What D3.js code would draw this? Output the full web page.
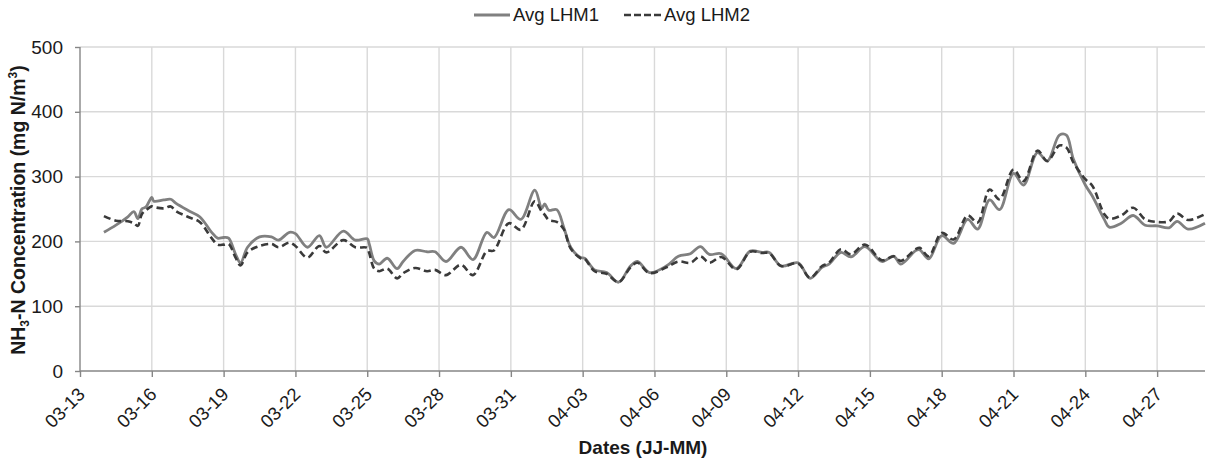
<!DOCTYPE html>
<html>
<head>
<meta charset="utf-8">
<script src="https://cdn.jsdelivr.net/npm/d3@7"></script>
<style>
body { margin: 0; background: #fff; }
svg { font-family: "Liberation Sans", Arial, sans-serif; }
</style>
</head>
<body>
<svg id="chart" width="1207" height="465"></svg>
<script>
// sample times (MM-DD HH)
var times = ["03-14 00","03-14 12","03-15 00","03-15 06","03-15 10","03-15 14","03-15 18","03-16 00","03-16 02","03-16 12",
	"03-16 19","03-17 00","03-17 12","03-18 00","03-18 12","03-18 18","03-19 00","03-19 05","03-19 12","03-19 17",
	"03-20 00","03-20 12","03-21 00","03-21 07","03-21 18","03-22 00","03-22 12","03-23 00","03-23 07","03-24 00",
	"03-24 12","03-25 00","03-25 02","03-25 07","03-25 12","03-25 20","03-26 06","03-26 12","03-27 00","03-27 12",
	"03-27 20","03-28 07","03-28 22","03-29 10","03-30 00","03-30 07","03-30 22","03-31 10","04-01 00","04-01 07",
	"04-01 10","04-01 14","04-01 22","04-02 05","04-02 12","04-02 22","04-03 02","04-03 12","04-04 00","04-04 12",
	"04-05 00","04-05 07","04-05 19","04-06 12","04-07 00","04-07 12","04-07 22","04-08 07","04-08 19","04-09 10",
	"04-10 00","04-10 12","04-10 19","04-11 07","04-12 00","04-12 12","04-13 00","04-13 07","04-13 19","04-14 05",
	"04-14 19","04-15 12","04-16 00","04-16 07","04-16 22","04-17 02","04-17 11","04-18 00","04-18 12","04-19 02",
	"04-19 12","04-20 00","04-20 10","04-21 00","04-21 10","04-22 00","04-22 10","04-22 22","04-23 05","04-23 12",
	"04-24 00","04-24 07","04-24 19","04-25 00","04-25 12","04-26 00","04-26 12","04-27 00","04-27 12","04-27 20",
	"04-28 07","04-29 00"];

var lhm1 = [214,225,238,246,235,250,253,268,262,264,
	265,259,248,238,214,205,206,205,180,167,
	191,207,207,202,214,212,191,209,191,216,
	202,204,196,170,165,174,158,169,186,184,
	184,169,191,172,214,206,249,234,279,251,
	258,248,249,222,191,175,174,156,152,137,
	162,169,152,162,177,181,192,180,181,158,
	185,183,183,162,167,143,160,165,183,176,
	192,169,177,165,186,187,173,209,197,234,
	219,264,249,305,287,337,324,364,364,327,
	287,270,234,222,228,240,225,224,221,231,
	219,228];

var lhm2 = [239,232,231,228,224,242,248,254,253,251,
	254,247,238,230,205,195,195,196,175,163,
	183,193,196,191,198,193,175,193,183,202,
	191,190,182,158,154,158,143,151,159,154,
	156,148,164,148,185,186,228,218,262,246,
	241,233,230,219,189,174,173,154,150,137,
	160,167,151,160,169,167,177,167,176,157,
	184,182,182,162,166,144,162,167,188,180,
	195,171,177,170,188,190,177,213,203,240,
	229,280,265,311,293,340,324,348,345,322,
	296,286,242,235,240,252,234,230,231,243,
	233,242];

var yTicks = [0, 100, 200, 300, 400, 500];
var xTickLabels = ["03-13","03-16","03-19","03-22","03-25","03-28","03-31","04-03",
	"04-06","04-09","04-12","04-15","04-18","04-21","04-24","04-27"];
var xDomain = ["03-13 00", "04-29 00"];
var seriesNames = ["Avg LHM1", "Avg LHM2"];

(function(){
	var parse = d3.timeParse("%m-%d %H");
	var parseDay = d3.timeParse("%m-%d");
	var fmt = d3.timeFormat("%m-%d");
	var svg = d3.select("#chart");

	var m = {left: 80, right: 1205, top: 47, bottom: 371};

	var x = d3.scaleTime()
		.domain(xDomain.map(parse))
		.range([m.left, m.right]);

	var y = d3.scaleLinear()
		.domain([0, 500])
		.range([m.bottom, m.top]);

	var xTicks = xTickLabels.map(parseDay);

	// grid
	svg.append("g").selectAll("line")
		.data(yTicks.slice(1))
		.enter().append("line")
		.attr("x1", m.left).attr("x2", m.right)
		.attr("y1", function(d){ return y(d); })
		.attr("y2", function(d){ return y(d); })
		.attr("stroke", "#d9d9d9").attr("stroke-width", 1.4);

	svg.append("g").selectAll("line")
		.data(xTicks.slice(1))
		.enter().append("line")
		.attr("x1", function(d){ return x(d); })
		.attr("x2", function(d){ return x(d); })
		.attr("y1", m.top).attr("y2", m.bottom)
		.attr("stroke", "#d9d9d9").attr("stroke-width", 1.4);

	// axes
	var yAxis = svg.append("g")
		.attr("transform", "translate(" + m.left + ",0)")
		.call(d3.axisLeft(y).tickValues(yTicks).tickSize(5).tickPadding(12));

	var xAxis = svg.append("g")
		.attr("transform", "translate(0," + m.bottom + ")")
		.call(d3.axisBottom(x).tickValues(xTicks).tickSize(6).tickFormat(fmt));

	svg.selectAll(".domain, .tick line").attr("stroke", "#868686").attr("stroke-width", 1.4);
	yAxis.select(".domain").attr("d", "M0," + m.bottom + "V" + m.top);
	xAxis.select(".domain").attr("d", "M" + m.left + ",0H" + m.right);

	yAxis.selectAll("text")
		.attr("font-size", 19).attr("fill", "#1a1a1a");

	xAxis.selectAll("text")
		.attr("font-size", 18.5).attr("fill", "#1a1a1a")
		.attr("text-anchor", "end")
		.attr("dy", "0.35em")
		.attr("y", 0).attr("x", 0)
		.attr("transform", "translate(1,20) rotate(-45)");

	// lines
	var line = d3.line()
		.x(function(d){ return x(d[0]); })
		.y(function(d){ return y(d[1]); })
		.curve(d3.curveCatmullRom.alpha(0.5));

	var dates = times.map(parse);

	svg.append("path")
		.datum(dates.map(function(d, i){ return [d, lhm1[i]]; }))
		.attr("d", line)
		.attr("fill", "none")
		.attr("stroke", "#808080")
		.attr("stroke-width", 2.8);

	svg.append("path")
		.datum(dates.map(function(d, i){ return [d, lhm2[i]]; }))
		.attr("d", line)
		.attr("fill", "none")
		.attr("stroke", "#3a3a3a")
		.attr("stroke-width", 2.6)
		.attr("stroke-dasharray", "7,4");

	// legend
	var legend = svg.append("g").attr("font-size", 18.5).attr("fill", "#1a1a1a");
	legend.append("line").attr("x1", 474).attr("x2", 510).attr("y1", 15).attr("y2", 15)
		.attr("stroke", "#808080").attr("stroke-width", 2.8);
	legend.append("text").attr("x", 513).attr("y", 21).text(seriesNames[0]);
	legend.append("line").attr("x1", 624).attr("x2", 662).attr("y1", 15).attr("y2", 15)
		.attr("stroke", "#3a3a3a").attr("stroke-width", 2.6).attr("stroke-dasharray", "7,3");
	legend.append("text").attr("x", 664).attr("y", 21).text(seriesNames[1]);

	// axis titles
	svg.append("text")
		.attr("x", 643).attr("y", 454)
		.attr("text-anchor", "middle")
		.attr("font-size", 19).attr("font-weight", "bold").attr("fill", "#1a1a1a")
		.text("Dates (JJ-MM)");

	var yt = svg.append("text")
		.attr("transform", "translate(25," + ((m.top + m.bottom) / 2 + 1) + ") rotate(-90)")
		.attr("text-anchor", "middle")
		.attr("font-size", 19.5).attr("font-weight", "bold").attr("fill", "#1a1a1a");
	yt.append("tspan").text("NH");
	yt.append("tspan").attr("font-size", 12).attr("dy", 4).text("3");
	yt.append("tspan").attr("dy", -4).text("-N Concentration (mg N/m");
	yt.append("tspan").attr("font-size", 12).attr("dy", -8).text("3");
	yt.append("tspan").attr("dy", 8).text(")");
})();
</script>
</body>
</html>
